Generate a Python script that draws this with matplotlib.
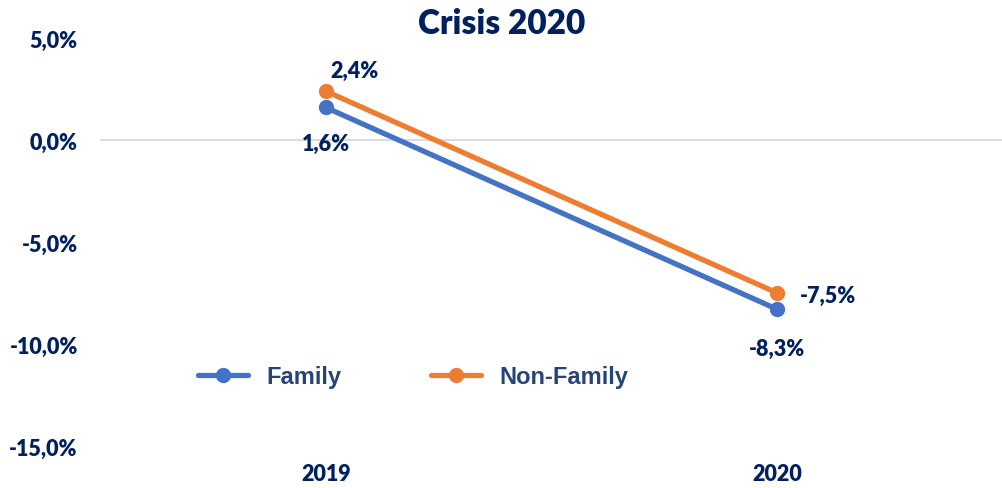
import matplotlib.pyplot as plt
from matplotlib.ticker import FuncFormatter

# Daten
jahre = ["2019", "2020"]
family = [1.6, -8.3]
non_family = [2.4, -7.5]

navy = "#002060"
blau = "#4472C4"
orange = "#ED7D31"

fig = plt.figure(figsize=(10.03, 4.89), dpi=100)
ax = fig.add_axes([0.0997, 0.086, 0.9003, 0.834])

x = range(len(jahre))
ax.plot(x, family, color=blau, lw=3.8, marker="o", ms=10, label="Family",
        solid_capstyle="round")
ax.plot(x, non_family, color=orange, lw=3.8, marker="o", ms=10, label="Non-Family",
        solid_capstyle="round")

def pct(v):
    return f"{v:.1f}%".replace(".", ",")

lab = dict(color=navy, fontsize=15.5, fontweight="heavy", family="Lato")
# Datenbeschriftungen
ax.annotate(pct(non_family[0]), (0, non_family[0]), xytext=(3, 15),
            textcoords="offset points", ha="left", va="center", **lab)
ax.annotate(pct(family[0]), (0, family[0]), xytext=(0, -26),
            textcoords="offset points", ha="center", va="center", **lab)
ax.annotate(pct(non_family[1]), (1, non_family[1]), xytext=(16, -2),
            textcoords="offset points", ha="left", va="center", **lab)
ax.annotate(pct(family[1]), (1, family[1]), xytext=(0, -28),
            textcoords="offset points", ha="center", va="center", **lab)

ax.set_xlim(-0.5, 1.5)
ax.set_ylim(-15, 5)
ax.set_yticks([5, 0, -5, -10, -15])
ax.yaxis.set_major_formatter(FuncFormatter(lambda v, p: pct(v)))
ax.set_xticks(list(x))
ax.set_xticklabels(jahre)
ax.axhline(0, color="#d9d9d9", lw=1.3, zorder=0)

for s in ax.spines.values():
    s.set_visible(False)
ax.tick_params(length=0, labelsize=15.5, labelcolor=navy)
ax.tick_params(axis="y", pad=16)
ax.tick_params(axis="x", pad=12)
for t in ax.get_xticklabels() + ax.get_yticklabels():
    t.set_fontweight("heavy")
    t.set_family("Lato")

fig.text(0.5, 0.95, "Crisis 2020", ha="center", va="center", color=navy,
         fontsize=24, fontweight="heavy", family="Lato")

leg = ax.legend(loc="center left", bbox_to_anchor=(0.085, 0.17), ncol=2,
                frameon=False, handlelength=2.1, handletextpad=0.8,
                columnspacing=3.8,
                prop=dict(family="Liberation Sans", weight="bold", size=17))
for t in leg.get_texts():
    t.set_color("#264478")

fig.savefig("out.png", dpi=100)
